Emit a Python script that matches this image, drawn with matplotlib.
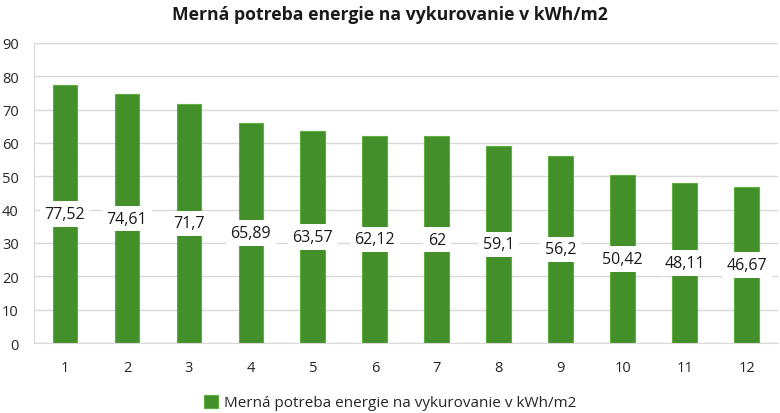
import matplotlib
matplotlib.use("Agg")
import matplotlib.pyplot as plt

categories = ["1", "2", "3", "4", "5", "6", "7", "8", "9", "10", "11", "12"]
values = [77.52, 74.61, 71.7, 65.89, 63.57, 62.12, 62, 59.1, 56.2, 50.42, 48.11, 46.67]
value_labels = ["77,52", "74,61", "71,7", "65,89", "63,57", "62,12", "62", "59,1", "56,2", "50,42", "48,11", "46,67"]
series_name = "Merná potreba energie na vykurovanie v kWh/m2"
yticks = [0, 10, 20, 30, 40, 50, 60, 70, 80, 90]

plt.rcParams['font.family'] = ['Open Sans', 'DejaVu Sans']

fig = plt.figure(figsize=(7.8, 4.14), dpi=100)
ax = fig.add_axes([0.0436, 0.169, 0.9534, 0.725])

x = list(range(len(categories)))
bars = ax.bar(x, values, width=0.4, color="#43902A", edgecolor="#5DAE3E", linewidth=0.8, label=series_name, zorder=2)

for xi, v, lab in zip(x, values, value_labels):
    ax.text(xi, v / 2, lab, ha="center", va="center", fontsize=11.5, color="#1a1a1a", zorder=3,
            bbox=dict(boxstyle="square,pad=0.3", facecolor="white", edgecolor="none"))

ax.set_xlim(-0.5, len(categories) - 0.5)
ax.set_ylim(0, 90)
ax.set_yticks(yticks)
ax.set_yticklabels([str(t) for t in yticks])
ax.set_xticks(x)
ax.set_xticklabels(categories)
ax.tick_params(axis="both", length=0, labelsize=10.5, colors="#262626")
ax.tick_params(axis="y", pad=11)
ax.tick_params(axis="x", pad=12)
ax.yaxis.grid(True, color="#D9D9D9", linewidth=1, zorder=0)
ax.set_axisbelow(True)
for s in ["top", "right"]:
    ax.spines[s].set_visible(False)
ax.spines["left"].set_color("#D9D9D9")
ax.spines["bottom"].set_color("#D9D9D9")

fig.suptitle(series_name, x=0.5, y=0.985, fontsize=12.7, fontweight="bold", color="#1a1a1a")

leg = fig.legend(handles=[bars], labels=[series_name], loc="center", bbox_to_anchor=(0.5, 0.025),
                 frameon=False, fontsize=11, handlelength=0.9, handleheight=0.9, handletextpad=0.4)
for t in leg.get_texts():
    t.set_color("#262626")

fig.savefig("out.png", dpi=100)
